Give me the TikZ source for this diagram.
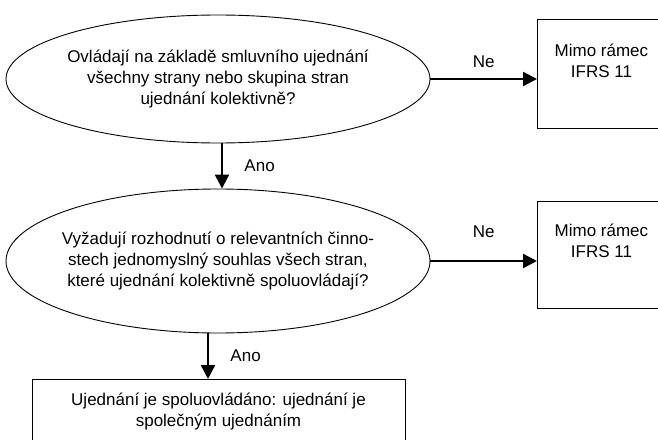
\documentclass[tikz,border=0pt]{standalone}
\usepackage{fontspec}
\setmainfont{Liberation Sans}
\usepackage{tikz}
\usetikzlibrary{positioning}
\usetikzlibrary{shapes,arrows,arrows.meta}

\begin{document}
\begin{tikzpicture}[x=1pt,y=-1pt,
					font=\fontsize{17}{21}\selectfont,
					decision/.style={ellipse,
										inner sep=0mm,
										draw=black,
										line width=0.9pt,
										minimum width=424pt
									},
					outbox/.style={rectangle,
										draw=black,
										line width=0.9pt,
										minimum width=128pt
									},
					flowconnection/.style={
									line width=2.3pt,
									-{Triangle[length=14pt,width=14pt]}
									}
					]
\useasboundingbox (0,0) rectangle (658,439);
\clip (0,0) rectangle (658,439);
% questions
\node[decision,minimum height=128pt] (Q1) at (218,79) { };
\node[align=center] (Q1text) at (Q1) {Ovládají na základě smluvního ujednání\\všechny strany nebo skupina stran\\ujednání kolektivně?};
\node[decision,minimum height=144pt] (Q2) at (218,261) { };
\node[align=center] (Q2text) at (Q2) {Vyžadují rozhodnutí o relevantních činno-\\stech jednomyslný souhlas všech stran,\\které ujednání kolektivně spoluovládají?};
% outcomes
\node[outbox,anchor=north west,minimum height=109pt] (O1) at (537,19) { };
\node[align=center] (O1text) at ([yshift=-42pt]O1.north) {Mimo rámec\\IFRS 11};
\node[outbox,anchor=north west,minimum height=107pt] (O2) at (537,201) { };
\node[align=center] (O2text) at ([yshift=-40pt]O2.north) {Mimo rámec\\IFRS 11};
\node[outbox,anchor=north,minimum width=373pt,minimum height=64pt,align=center] (R) at (218.5,379) {Ujednání je spoluovládáno: ujednání je\\společným ujednáním};
% connections
\draw[flowconnection] (Q1.east) -- (Q1.east -| O1.west) node[midway,above=7pt] (Ne1) {Ne};
\draw[flowconnection] ([xshift=4pt]Q1.south) -- ([xshift=4pt]Q2.north) node[midway,right=18pt] (Ano1) {Ano};
\draw[flowconnection] (Q2.east) -- (Q2.east -| O2.west) node[midway,above=19pt] (Ne2) {Ne};
\draw[flowconnection] ([xshift=-10pt]Q2.south) -- ([xshift=-10pt]Q2.south |- R.north) node[midway,right=18pt] (Ano2) {Ano};
\end{tikzpicture}
\end{document}
